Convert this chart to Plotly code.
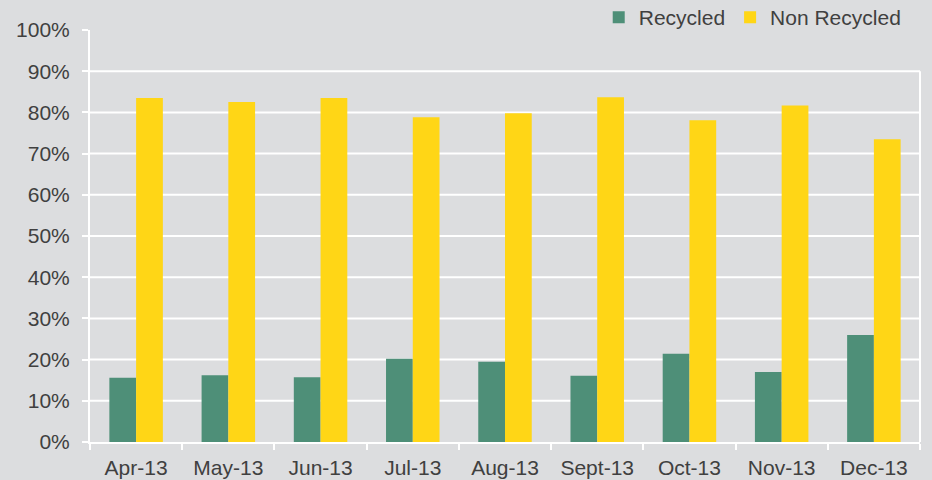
import plotly.graph_objects as go

months = ["Apr-13", "May-13", "Jun-13", "Jul-13", "Aug-13",
          "Sept-13", "Oct-13", "Nov-13", "Dec-13"]
recycled = [0.156, 0.162, 0.157, 0.202, 0.195, 0.161, 0.214, 0.170, 0.260]
non_recycled = [0.835, 0.825, 0.835, 0.788, 0.798, 0.837, 0.781, 0.817, 0.735]
y_ticks = [0.0, 0.1, 0.2, 0.3, 0.4, 0.5, 0.6, 0.7, 0.8, 0.9, 1.0]
y_labels = ["0%", "10%", "20%", "30%", "40%", "50%", "60%", "70%", "80%", "90%", "100%"]

BG = "#dcdddf"
TXT = "#404040"

fig = go.Figure()
fig.add_trace(go.Bar(x=months, y=recycled, name="Recycled",
                     marker=dict(color="#4e8f78", line_width=0)))
fig.add_trace(go.Bar(x=months, y=non_recycled, name="Non Recycled",
                     marker=dict(color="#ffd616", line_width=0)))

# gridlines only up to 90%, as in the original
for v in y_ticks[1:-1]:
    fig.add_hline(y=v, line_color="white", line_width=2, layer="below")
# right-hand border
fig.add_shape(type="line", xref="paper", yref="y", x0=1, x1=1, y0=0, y1=0.9,
              line=dict(color="white", width=2), layer="below")

fig.update_layout(
    width=932, height=480,
    margin=dict(l=90, r=12, t=30, b=38, autoexpand=False),
    paper_bgcolor=BG, plot_bgcolor=BG,
    font=dict(family="Liberation Sans, Arial, sans-serif", size=21, color=TXT),
    barmode="group", bargap=0.42, bargroupgap=0,
    legend=dict(orientation="h", x=0.984, xanchor="right", y=1.03, yanchor="middle",
                bgcolor="rgba(0,0,0,0)", font=dict(size=21, color=TXT),
                itemwidth=30, tracegroupgap=0),
    showlegend=True,
)
fig.update_yaxes(range=[0, 1], tickvals=y_ticks, ticktext=y_labels, showgrid=False,
                 zeroline=False, showline=True, linecolor="white", linewidth=2,
                 ticks="outside", ticklen=6, tickcolor="white", tickwidth=2,
                 ticklabelstandoff=8, automargin=False)
fig.update_xaxes(showgrid=False, showline=True, linecolor="white", linewidth=2,
                 ticks="outside", ticklen=6, tickcolor="white", tickwidth=2,
                 tickson="boundaries", ticklabelstandoff=6, automargin=False)

fig.write_html("out.html", config={"displayModeBar": False},
               post_script="document.body.style.margin='0';document.body.style.background='%s';" % BG)
